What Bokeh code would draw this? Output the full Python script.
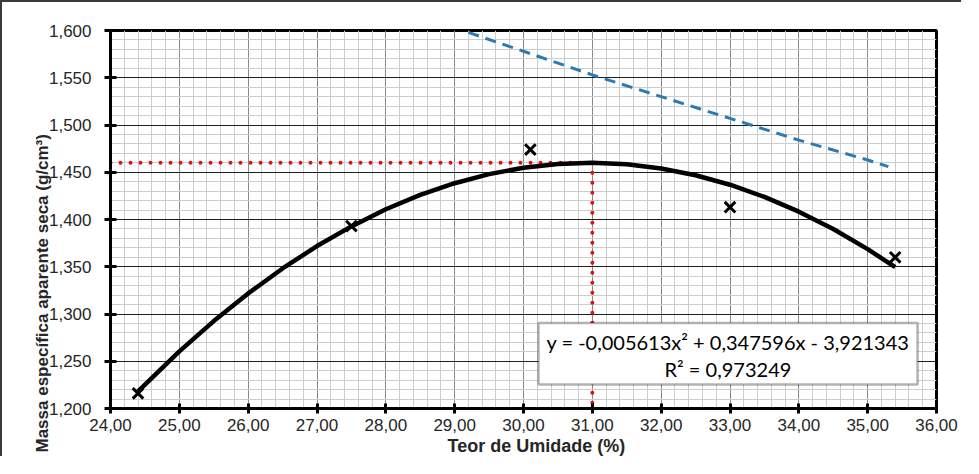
from bokeh.plotting import figure
from bokeh.models import FixedTicker, CustomJSTickFormatter, BoxAnnotation, Label, Range1d, Title
from bokeh.embed import file_html
from bokeh.resources import INLINE

# ---- data ----
umidade = [24.4, 27.5, 30.1, 33.0, 35.4]            # Teor de Umidade (%)
massa = [1.216, 1.393, 1.474, 1.413, 1.360]          # g/cm3

# polynomial trend line
trend_x = [24.4, 25.0, 25.5, 26.0, 26.5, 27.0, 27.5, 28.0, 28.5, 29.0, 29.5, 30.0,
           30.5, 31.0, 31.5, 32.0, 32.5, 33.0, 33.5, 34.0, 34.5, 35.0, 35.4]
trend_y = [1.2182, 1.2604, 1.2925, 1.3218, 1.3482, 1.3719, 1.3927, 1.4108, 1.4260,
           1.4384, 1.4480, 1.4548, 1.4588, 1.4600, 1.4584, 1.4540, 1.4468, 1.4368,
           1.4239, 1.4083, 1.3899, 1.3686, 1.3496]

# blue dashed (saturation) curve
sat_x = [29.2, 30.0, 31.0, 32.0, 33.0, 34.0, 35.0, 35.3]
sat_y = [1.598, 1.578, 1.553, 1.530, 1.507, 1.484, 1.463, 1.456]

w_otima = 31.0
massa_max = 1.460

x_ticks = [24, 25, 26, 27, 28, 29, 30, 31, 32, 33, 34, 35, 36]
y_ticks = [1.200, 1.250, 1.300, 1.350, 1.400, 1.450, 1.500, 1.550, 1.600]

eq_text = "y = -0,005613x² + 0,347596x - 3,921343"
r2_text = "R² = 0,973249"
x_title = "Teor de Umidade (%)"
y_title = "Massa específica aparente seca (g/cm³)"

# ---- figure ----
W, H = 961, 456
FL, FR, FT, FB = 108, 934, 28, 406   # frame edges in canvas pixels
p = figure(width=W, height=H, output_backend="svg", toolbar_location=None,
           x_range=Range1d(x_ticks[0], x_ticks[-1]), y_range=Range1d(y_ticks[0], y_ticks[-1]),
           min_border_left=FL, min_border_right=W - FR, min_border_top=FT,
           min_border_bottom=H - FB)
p.styles = {"border-left": "2px solid #3a3a3a", "border-top": "2px solid #3a3a3a"}
p.background_fill_color = "white"
p.border_fill_color = "white"
p.outline_line_color = "black"
p.outline_line_width = 3

x_minor = [t + k * 0.2 for t in x_ticks[:-1] for k in range(1, 5)]
y_minor = [round(t + k * 0.01, 3) for t in y_ticks[:-1] for k in range(1, 5)]
p.xaxis.ticker = FixedTicker(ticks=x_ticks, minor_ticks=x_minor)
p.yaxis.ticker = FixedTicker(ticks=y_ticks, minor_ticks=y_minor)
p.xgrid.ticker = p.xaxis.ticker
p.ygrid.ticker = p.yaxis.ticker
p.xaxis.formatter = CustomJSTickFormatter(code="return tick.toFixed(2).replace('.', ',');")
p.yaxis.formatter = CustomJSTickFormatter(code="return tick.toFixed(3).replace('.', ',');")

p.xgrid.grid_line_color = "#8a8a8a"
p.xgrid.grid_line_width = 1
p.xgrid.minor_grid_line_color = "#cdcdcd"
p.xgrid.minor_grid_line_width = 1
p.ygrid.grid_line_color = "#1e1e1e"
p.ygrid.grid_line_width = 1.2
p.ygrid.minor_grid_line_color = "#cdcdcd"
p.ygrid.minor_grid_line_width = 1

for ax in (p.xaxis, p.yaxis):
    ax.axis_line_width = 3
    ax.axis_line_color = "black"
    ax.major_tick_line_width = 3
    ax.major_tick_line_color = "black"
    ax.minor_tick_in = 0
    ax.minor_tick_out = 0
    ax.major_label_text_font = "Liberation Sans"
    ax.major_label_text_font_size = "17px"
    ax.major_label_text_color = "#262626"
p.xaxis.major_tick_in = 5
p.xaxis.major_tick_out = 5
p.xaxis.major_label_standoff = 5
p.yaxis.major_tick_in = 6
p.yaxis.major_tick_out = 6
p.yaxis.major_label_standoff = 13

# ---- axis titles (side panels) ----
p.add_layout(Title(text=x_title, align="left", offset=337, standoff=0,
                   text_font="Liberation Sans", text_font_style="bold",
                   text_font_size="18px", text_color="#262626"), "below")
p.add_layout(Title(text=y_title, align="left", offset=-44, standoff=-12,
                   text_font="Liberation Sans", text_font_style="bold",
                   text_font_size="17px", text_color="#262626"), "left")

# ---- series ----
p.line([x_ticks[0], w_otima], [massa_max, massa_max], line_color="#e01010", line_width=4,
       line_dash="0 10", line_cap="round")
p.line([w_otima, w_otima], [massa_max, y_ticks[0]], line_color="#e01010", line_width=4,
       line_dash="0 10", line_cap="round")
p.line(sat_x, sat_y, line_color="#2a7ab5", line_width=3, line_dash="11 7")
p.line(trend_x, trend_y, line_color="black", line_width=4.5, line_join="round")
p.scatter(umidade, massa, marker="x", size=15, line_color="black", line_width=3)

# ---- equation box ----
p.add_layout(BoxAnnotation(left=30.218, right=35.725, bottom=1.2253, top=1.2905,
                           fill_color="white", fill_alpha=1, line_color="black", line_width=2.5))
p.add_layout(Label(x=32.97, y=1.2705, text=eq_text, text_align="center", text_baseline="middle",
                   text_font="Lato", text_font_size="20px", text_color="black"))
p.add_layout(Label(x=32.97, y=1.2421, text=r2_text, text_align="center", text_baseline="middle",
                   text_font="Lato", text_font_size="20px", text_color="black"))

open("out.html", "w").write(file_html(p, INLINE))
